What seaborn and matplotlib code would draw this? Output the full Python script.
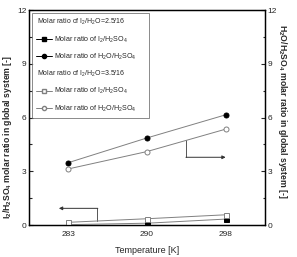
import matplotlib
matplotlib.use("Agg")
import matplotlib.pyplot as plt
from matplotlib.lines import Line2D
from matplotlib.ticker import MultipleLocator
import seaborn as sns
import pandas as pd

# data
temperatures = ["283", "290", "298"]
i2_h2so4_25 = [0.02, 0.10, 0.33]
h2o_h2so4_25 = [3.48, 4.86, 6.15]
i2_h2so4_35 = [0.15, 0.35, 0.57]
h2o_h2so4_35 = [3.13, 4.10, 5.35]

sns.set_theme(style="ticks")
plt.rcParams["font.family"] = ["Liberation Sans Narrow", "Liberation Sans", "DejaVu Sans"]
plt.rcParams["mathtext.default"] = "regular"

fig = plt.figure(figsize=(2.97, 2.57), dpi=100)
ax = fig.add_axes([29/297, 1-225/257, (265-29)/297, (225-10)/257])
ax2 = ax.twinx()

line_col = "#808080"
series = [
    (i2_h2so4_25, "s", "black", "black"),
    (h2o_h2so4_25, "o", "black", "black"),
    (i2_h2so4_35, "s", "white", "#808080"),
    (h2o_h2so4_35, "o", "white", "#808080"),
]
for vals, mk, fc, ec in series:
    df = pd.DataFrame({"T": temperatures, "v": vals})
    sns.lineplot(data=df, x="T", y="v", ax=ax, color=line_col, linewidth=0.7,
                 marker=mk, markersize=3.6, markerfacecolor=fc,
                 markeredgecolor=ec, markeredgewidth=0.7, sort=False, zorder=3)

for a in (ax, ax2):
    a.set_ylim(0, 12)
    a.yaxis.set_major_locator(MultipleLocator(3))
    a.yaxis.set_minor_locator(MultipleLocator(1.5))
    a.tick_params(axis="both", which="both", direction="in", labelsize=6, width=0.8,
                  pad=2)
    a.tick_params(which="major", length=3)
    a.tick_params(which="minor", length=1.8)
    for s in a.spines.values():
        s.set_linewidth(0.9)
        s.set_color("black")
ax.set_xlim(-0.5, 2.5)
ax.tick_params(axis="x", length=0, pad=4)

ax.set_xlabel("Temperature [K]", fontsize=6.5, labelpad=6)
ax.set_ylabel(r"I$_2$/H$_2$SO$_4$ molar ratio in global system [-]", fontsize=6.2,
              fontweight="bold", family=["Liberation Sans", "DejaVu Sans"])
ax.yaxis.set_label_coords(-0.062, 0.41)
ax2.set_ylabel(r"H$_2$O/H$_2$SO$_4$ molar ratio in global system [-]", fontsize=6.2,
               fontweight="bold", rotation=-90, family=["Liberation Sans", "DejaVu Sans"])
ax2.yaxis.set_label_coords(1.1, 0.53)

# arrows
ax.plot([0.37, 0.37], [0.22, 0.93], color="#555555", lw=0.7)
ax.annotate("", xy=(-0.12, 0.93), xytext=(0.375, 0.93),
            arrowprops=dict(arrowstyle="-|>", color="#333333", lw=0.7,
                            mutation_scale=5, shrinkA=0, shrinkB=0))
ax.plot([1.5, 1.5], [4.72, 3.78], color="#555555", lw=0.7)
ax.annotate("", xy=(2.0, 3.78), xytext=(1.495, 3.78),
            arrowprops=dict(arrowstyle="-|>", color="#333333", lw=0.7,
                            mutation_scale=5, shrinkA=0, shrinkB=0))

blank = Line2D([], [], linestyle="none", marker=None)
handles = [
    blank,
    Line2D([], [], color="black", lw=0.7, marker="s", ms=3, mfc="black", mec="black"),
    Line2D([], [], color="black", lw=0.7, marker="o", ms=3, mfc="black", mec="black"),
    blank,
    Line2D([], [], color="#808080", lw=0.7, marker="s", ms=3, mfc="white", mec="#808080"),
    Line2D([], [], color="#808080", lw=0.7, marker="o", ms=3, mfc="white", mec="#808080"),
]
labels = [
    r"Molar ratio of I$_2$/H$_2$O=2.5/16",
    r"Molar ratio of I$_2$/H$_2$SO$_4$",
    r"Molar ratio of H$_2$O/H$_2$SO$_4$",
    r"Molar ratio of I$_2$/H$_2$O=3.5/16",
    r"Molar ratio of I$_2$/H$_2$SO$_4$",
    r"Molar ratio of H$_2$O/H$_2$SO$_4$",
]
leg = ax.legend(handles, labels, loc="upper left", bbox_to_anchor=(0.012, 0.987),
                fontsize=5.1, frameon=True, fancybox=False, handlelength=2.2,
                handletextpad=0.4, labelspacing=1.0, borderpad=0.6,
                borderaxespad=0)
leg.get_frame().set_edgecolor("#555555")
leg.get_frame().set_linewidth(0.6)

# header entries flush left (no handle)
fig.canvas.draw()
renderer = fig.canvas.get_renderer()
frame_bb = leg.get_frame().get_window_extent(renderer)
texts = leg.get_texts()
for idx in (0, 3):
    t = texts[idx]
    bb = t.get_window_extent(renderer)
    t.set_visible(False)
    fig.text((frame_bb.x0 + 5) / fig.bbox.width, (bb.y0 + bb.y1) / 2 / fig.bbox.height,
             t.get_text(), fontsize=5.0, ha="left", va="center", zorder=10,
             color=t.get_color())

fig.savefig("out.png", dpi=100)
